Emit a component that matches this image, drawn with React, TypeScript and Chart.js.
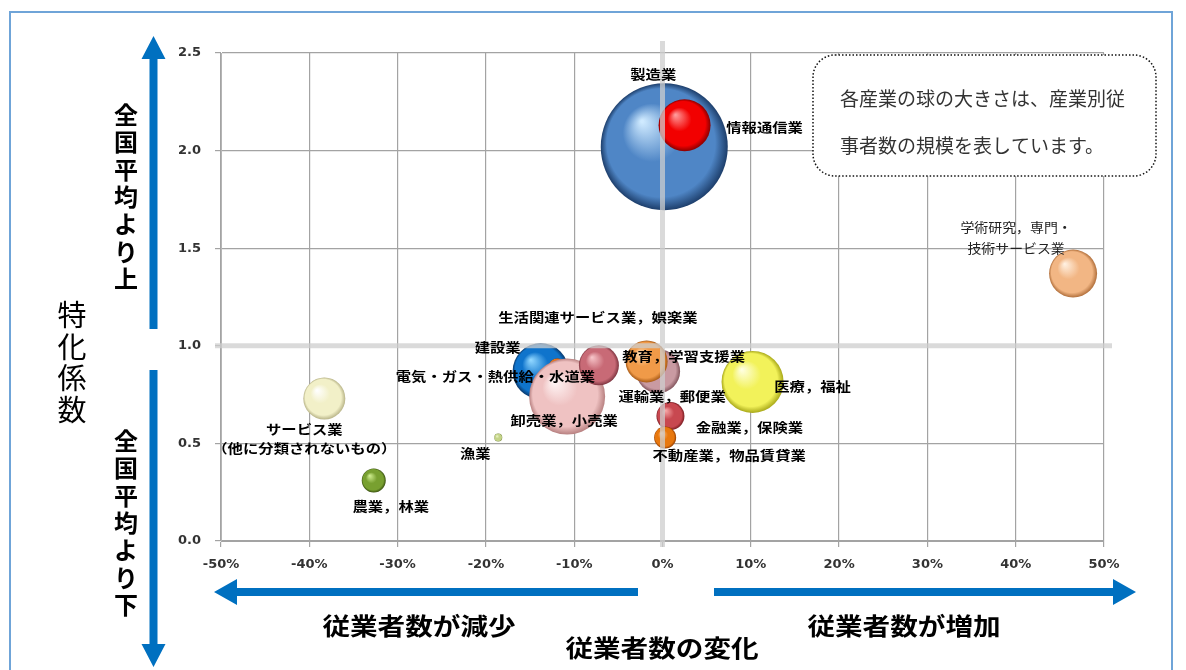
import React, { useEffect, useRef } from "react";
import { Chart, registerables } from "chart.js";

Chart.register(...registerables);

// ---- data ----
const industries = [
  "製造業",
  "情報通信業",
  "建設業",
  "電気・ガス・熱供給・水道業",
  "卸売業，小売業",
  "生活関連サービス業，娯楽業",
  "運輸業，郵便業",
  "教育，学習支援業",
  "医療，福祉",
  "金融業，保険業",
  "不動産業，物品賃貸業",
  "漁業",
  "サービス業（他に分類されないもの）",
  "農業，林業",
  "学術研究，専門・技術サービス業",
];
// change in number of employees (%)
const employmentChange = [0.2, 2.5, -13.8, -11.9, -10.8, -7.2, -0.5, -1.8, 10.2, 0.9, 0.3, -18.6, -38.3, -32.7, 46.5];
// specialization coefficient
const specialization = [2.02, 2.13, 0.87, 0.89, 0.74, 0.9, 0.87, 0.92, 0.815, 0.64, 0.53, 0.53, 0.73, 0.31, 1.37];
// bubble size (scale of employment)
const bubbleSize = [63.5, 26, 28, 9, 38, 20, 22, 21, 31, 14, 11, 4, 21, 12, 24];

const xTicks = [-50, -40, -30, -20, -10, 0, 10, 20, 30, 40, 50];
const yTicks = [0, 0.5, 1.0, 1.5, 2.0, 2.5];

// ---- styles ----
// [highlight, base, dark]
const sphereColors: string[][] = [
  ["#cfeaff", "#4f86c6", "#1d3e6b"],
  ["#ff9a9a", "#f20000", "#8a0000"],
  ["#8fd6ff", "#0f74cc", "#08386c"],
  ["#ffc890", "#e8761e", "#9a4208"],
  ["#fff6f6", "#efc2c2", "#b78080"],
  ["#f6c4c8", "#c86a76", "#7e3540"],
  ["#f4dade", "#c99aa2", "#82545c"],
  ["#ffdcb0", "#f09a48", "#a85a16"],
  ["#ffffe0", "#f2f25a", "#a8a818"],
  ["#f7a8a8", "#c84850", "#7a1c22"],
  ["#ffc088", "#e8780e", "#963e00"],
  ["#f0f8d0", "#c4d488", "#7a8a40"],
  ["#ffffff", "#f2f0c8", "#b8b488"],
  ["#d0ee90", "#78a030", "#3a5210"],
  ["#fff0e0", "#f2b684", "#b06e3a"],
];

const labelLines: string[][] = [
  ["製造業"],
  ["情報通信業"],
  ["建設業"],
  ["電気・ガス・熱供給・水道業"],
  ["卸売業，小売業"],
  ["生活関連サービス業，娯楽業"],
  ["運輸業，郵便業"],
  ["教育，学習支援業"],
  ["医療，福祉"],
  ["金融業，保険業"],
  ["不動産業，物品賃貸業"],
  ["漁業"],
  ["サービス業", "（他に分類されないもの）"],
  ["農業，林業"],
  ["学術研究，専門・", "技術サービス業"],
];
const labelOffsets: number[][] = [
  [-11, -73], [80, 2], [-43, -24], [-62, 9], [-3, 24], [-1, -48], [14, 25], [37, -5],
  [60, 4], [79, 11], [64, 18], [-23, 16], [-20, 31], [17, 26], [-57, -47],
];
const labelLineGap = [0, 0, 0, 0, 0, 0, 0, 0, 0, 0, 0, 0, 19, 0, 21];

const CJK = '"Noto Sans CJK JP", "Noto Sans CJK SC", sans-serif';

function stretchText(
  ctx: CanvasRenderingContext2D,
  text: string,
  x: number,
  y: number,
  font: string,
  sx: number,
  color: string
) {
  ctx.save();
  ctx.translate(x, y);
  ctx.scale(sx, 1);
  ctx.font = font;
  ctx.textAlign = "center";
  ctx.textBaseline = "middle";
  ctx.fillStyle = color;
  ctx.fillText(text, 0, 0);
  ctx.restore();
}

function hArrow(ctx: CanvasRenderingContext2D, x1: number, x2: number, y: number, tipLeft: boolean) {
  const half = 4, head = 13, hl = 23;
  ctx.fillStyle = "#0070c0";
  ctx.beginPath();
  if (tipLeft) {
    ctx.moveTo(x1, y);
    ctx.lineTo(x1 + hl, y - head);
    ctx.lineTo(x1 + hl, y - half);
    ctx.lineTo(x2, y - half);
    ctx.lineTo(x2, y + half);
    ctx.lineTo(x1 + hl, y + half);
    ctx.lineTo(x1 + hl, y + head);
  } else {
    ctx.moveTo(x2, y);
    ctx.lineTo(x2 - hl, y - head);
    ctx.lineTo(x2 - hl, y - half);
    ctx.lineTo(x1, y - half);
    ctx.lineTo(x1, y + half);
    ctx.lineTo(x2 - hl, y + half);
    ctx.lineTo(x2 - hl, y + head);
  }
  ctx.closePath();
  ctx.fill();
}

function vArrow(ctx: CanvasRenderingContext2D, x: number, y1: number, y2: number, tipUp: boolean) {
  const half = 4, head = 12, hl = 23;
  ctx.fillStyle = "#0070c0";
  ctx.beginPath();
  if (tipUp) {
    ctx.moveTo(x, y1);
    ctx.lineTo(x + head, y1 + hl);
    ctx.lineTo(x + half, y1 + hl);
    ctx.lineTo(x + half, y2);
    ctx.lineTo(x - half, y2);
    ctx.lineTo(x - half, y1 + hl);
    ctx.lineTo(x - head, y1 + hl);
  } else {
    ctx.moveTo(x, y2);
    ctx.lineTo(x + head, y2 - hl);
    ctx.lineTo(x + half, y2 - hl);
    ctx.lineTo(x + half, y1);
    ctx.lineTo(x - half, y1);
    ctx.lineTo(x - half, y2 - hl);
    ctx.lineTo(x - head, y2 - hl);
  }
  ctx.closePath();
  ctx.fill();
}

function verticalText(
  ctx: CanvasRenderingContext2D,
  text: string,
  x: number,
  yStart: number,
  step: number,
  font: string
) {
  ctx.save();
  ctx.font = font;
  ctx.textAlign = "center";
  ctx.textBaseline = "middle";
  ctx.fillStyle = "#000";
  Array.from(text).forEach((ch, i) => ctx.fillText(ch, x, yStart + i * step));
  ctx.restore();
}

const overlayPlugin = {
  id: "overlay",
  afterDatasetsDraw(chart: any) {
    const ctx: CanvasRenderingContext2D = chart.ctx;
    const xs = chart.scales.x, ys = chart.scales.y;
    const area = chart.chartArea;
    // reference lines (0% change, coefficient 1.0)
    ctx.save();
    ctx.strokeStyle = "rgba(205,205,205,0.75)";
    ctx.lineWidth = 5;
    const x0 = xs.getPixelForValue(0);
    const y1 = ys.getPixelForValue(1);
    ctx.beginPath();
    ctx.moveTo(x0, area.top - 12);
    ctx.lineTo(x0, area.bottom + 6);
    ctx.moveTo(area.left - 6, y1);
    ctx.lineTo(area.right + 8, y1);
    ctx.stroke();
    ctx.restore();

    // bubble labels
    industries.forEach((_, i) => {
      const px = xs.getPixelForValue(employmentChange[i]);
      const py = ys.getPixelForValue(specialization[i]);
      const [dx, dy] = labelOffsets[i];
      const light = i === 14;
      labelLines[i].forEach((line, k) => {
        stretchText(
          ctx,
          line,
          px + dx,
          py + dy + k * labelLineGap[i],
          `${light ? "normal" : "bold"} 13px ${CJK}`,
          light ? 1.07 : 1.18,
          light ? "#222" : "#000"
        );
      });
    });
  },
  afterDraw(chart: any) {
    const ctx: CanvasRenderingContext2D = chart.ctx;
    // outer frame
    ctx.save();
    ctx.strokeStyle = "#6fa4d8";
    ctx.lineWidth = 2;
    ctx.strokeRect(10, 12, 1162, 700);
    ctx.restore();

    // note box
    ctx.save();
    ctx.fillStyle = "#fff";
    ctx.strokeStyle = "#111";
    ctx.lineWidth = 1.5;
    ctx.setLineDash([1.5, 2]);
    ctx.beginPath();
    (ctx as any).roundRect(813, 55, 343, 121, 22);
    ctx.fill();
    ctx.stroke();
    ctx.restore();
    ctx.save();
    ctx.font = `normal 19px ${CJK}`;
    ctx.fillStyle = "#333";
    ctx.textAlign = "left";
    ctx.textBaseline = "middle";
    ctx.fillText("各産業の球の大きさは、産業別従", 840, 99);
    ctx.fillText("事者数の規模を表しています。", 840, 146);
    ctx.restore();

    // arrows
    vArrow(ctx, 153.5, 36, 329, true);
    vArrow(ctx, 153.5, 370, 667, false);
    hArrow(ctx, 214, 638, 592, true);
    hArrow(ctx, 714, 1136, 592, false);

    // vertical axis texts
    verticalText(ctx, "全国平均より上", 126, 115, 27.3, `bold 24px ${CJK}`);
    verticalText(ctx, "全国平均より下", 126, 441, 27.3, `bold 24px ${CJK}`);
    verticalText(ctx, "特化係数", 72, 315, 31.5, `normal 29px ${CJK}`);

    // horizontal axis texts
    stretchText(ctx, "従業者数が減少", 419, 626, `bold 24px ${CJK}`, 1.15, "#000");
    stretchText(ctx, "従業者数が増加", 904, 626, `bold 24px ${CJK}`, 1.15, "#000");
    stretchText(ctx, "従業者数の変化", 662, 648, `bold 24px ${CJK}`, 1.15, "#000");
  },
};

function sphereFill(ctx: any) {
  const i = ctx.dataIndex;
  const chart = ctx.chart;
  if (i === undefined || !sphereColors[i]) return "#888";
  const [hi, base, dark] = sphereColors[i];
  const xs = chart.scales && chart.scales.x;
  const ys = chart.scales && chart.scales.y;
  if (!xs || !ys) return base;
  const px = xs.getPixelForValue(employmentChange[i]);
  const py = ys.getPixelForValue(specialization[i]);
  const r = bubbleSize[i];
  if (!isFinite(px) || !isFinite(py) || !isFinite(r)) return base;
  const g = chart.ctx.createRadialGradient(px - r * 0.35, py - r * 0.4, r * 0.02, px, py, r);
  g.addColorStop(0, hi);
  g.addColorStop(0.45, base);
  g.addColorStop(0.85, base);
  g.addColorStop(1, dark);
  return g;
}

export default function App() {
  const ref = useRef<HTMLCanvasElement | null>(null);

  useEffect(() => {
    if (!ref.current) return;
    const points = industries.map((_, i) => ({
      x: employmentChange[i],
      y: specialization[i],
      r: bubbleSize[i],
    }));
    const chart = new Chart(ref.current, {
      type: "bubble",
      data: {
        datasets: [
          {
            label: "産業",
            data: points,
            backgroundColor: sphereFill as any,
            borderWidth: 0,
            hoverBorderWidth: 0,
          },
        ],
      },
      options: {
        responsive: false,
        animation: false,
        events: [],
        layout: { autoPadding: false, padding: { left: 0, right: 82, top: 53, bottom: 0 } },
        plugins: { legend: { display: false }, tooltip: { enabled: false } },
        scales: {
          x: {
            type: "linear",
            min: -50,
            max: 50,
            afterBuildTicks: (s: any) => {
              s.ticks = xTicks.map((v) => ({ value: v }));
            },
            afterFit: (s: any) => {
              s.height = 129;
            },
            ticks: {
              color: "#333",
              padding: 10,
              font: { family: '"DejaVu Sans", sans-serif', weight: "bold", size: 13 },
              callback: (v: any) => `${v}%`,
            },
            grid: {
              color: (c: any) => (c.tick && c.tick.value === 0 ? "rgba(0,0,0,0)" : "#a3a3a3"),
              lineWidth: 1.2,
              tickLength: 6,
              tickColor: "#a3a3a3",
            },
            border: { color: "#a3a3a3", width: 1 },
          },
          y: {
            type: "linear",
            min: 0,
            max: 2.5,
            afterBuildTicks: (s: any) => {
              s.ticks = yTicks.map((v) => ({ value: v }));
            },
            afterFit: (s: any) => {
              s.width = 221;
            },
            ticks: {
              color: "#333",
              padding: 14,
              font: { family: '"DejaVu Sans", sans-serif', weight: "bold", size: 13 },
              callback: (v: any) => Number(v).toFixed(1),
            },
            grid: {
              color: (c: any) => (c.tick && c.tick.value === 1 ? "rgba(0,0,0,0)" : "#a3a3a3"),
              lineWidth: 1.2,
              tickLength: 6,
              tickColor: "#a3a3a3",
            },
            border: { color: "#b5b5b5", width: 1 },
          },
        },
      },
      plugins: [overlayPlugin],
    });
    return () => chart.destroy();
  }, []);

  return (
    <div style={{ position: "absolute", left: 0, top: 0, width: 1186, height: 670, background: "#fff" }}>
      <canvas ref={ref} width={1186} height={670} style={{ display: "block" }} />
    </div>
  );
}
